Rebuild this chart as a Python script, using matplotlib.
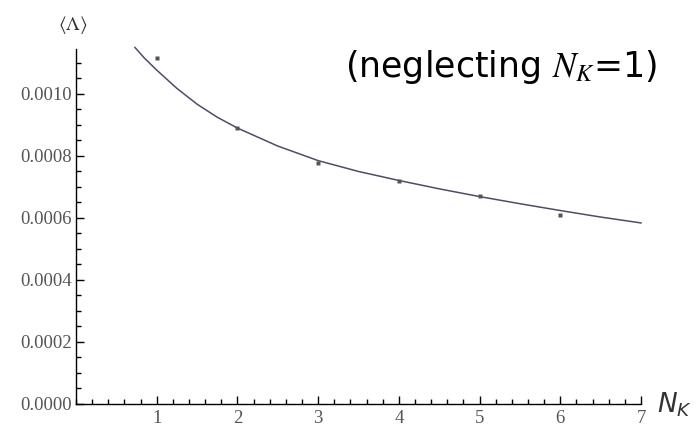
import numpy as np
import matplotlib
matplotlib.use('Agg')
import matplotlib.pyplot as plt
from matplotlib.ticker import MultipleLocator, FormatStrFormatter

# data points
nk = [1, 2, 3, 4, 5, 6]
lam = [0.001116, 0.000890, 0.000777, 0.000719, 0.000671, 0.000610]

# fitted curve
curve_x = [0.73, 0.85, 1.0, 1.25, 1.5, 1.75, 2.0, 2.5, 3.0, 3.5,
           4.0, 4.5, 5.0, 5.5, 6.0, 6.5, 7.0]
curve_y = [0.001150, 0.001115, 0.001077, 0.001018, 0.000967, 0.000925,
           0.000890, 0.000832, 0.000785, 0.000750, 0.000721, 0.000694,
           0.000669, 0.000646, 0.000624, 0.000603, 0.000584]

x_ticks = [1, 2, 3, 4, 5, 6, 7]
y_ticks = [0.0, 0.0002, 0.0004, 0.0006, 0.0008, 0.0010]

GREY = '#555555'

fig = plt.figure(figsize=(6.96, 4.29), dpi=100)
ax = fig.add_axes([76 / 696, 25 / 429, (641 - 76) / 696, (404 - 49) / 429])

ax.plot(curve_x, curve_y, color='#4d4d68', lw=1.1, clip_on=False)
ax.plot(nk, lam, 's', color='#555555', ms=2.8, mec='none', clip_on=False)

ax.set_xlim(0, 7)
ax.set_ylim(0, 0.001145)

for side in ['top', 'right']:
    ax.spines[side].set_visible(False)
for side in ['left', 'bottom']:
    ax.spines[side].set_linewidth(1.0)

ax.set_xticks(x_ticks)
ax.set_yticks(y_ticks)
ax.xaxis.set_minor_locator(MultipleLocator(0.2))
ax.yaxis.set_minor_locator(MultipleLocator(0.00005))
ax.yaxis.set_major_formatter(FormatStrFormatter('%.4f'))
ax.tick_params(which='both', direction='in', width=1.0)
ax.tick_params(which='major', length=6)
ax.tick_params(which='minor', length=3.5)
ax.tick_params(axis='both', labelsize=13.5, labelcolor=GREY)
ax.tick_params(axis='y', pad=3)
ax.tick_params(axis='x', pad=4)
for lbl in ax.get_xticklabels() + ax.get_yticklabels():
    lbl.set_fontfamily('Liberation Serif')

fig.text(73 / 696, 1 - 25 / 429, r'$\langle\Lambda\rangle$', ha='center', va='center',
         fontsize=14, color='#333333', math_fontfamily='stix')
fig.text(657 / 696, 1 - 405 / 429, r'$N_K$', ha='left', va='center',
         fontsize=19, color='#333333')
fig.text(657 / 696, 1 - 67 / 429, r'(neglecting $N_K$=1)', ha='right', va='center',
         fontsize=25, color='black', family='DejaVu Sans', math_fontfamily='stix')

fig.savefig('out.png', dpi=100)
